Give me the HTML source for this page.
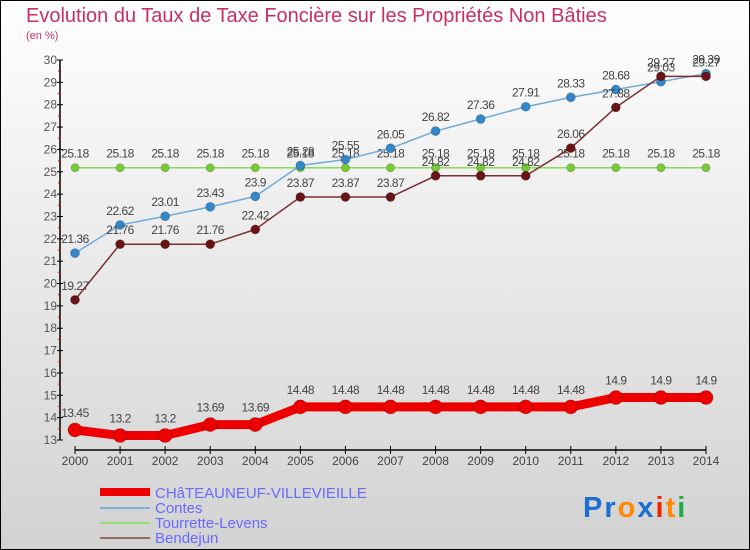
<!DOCTYPE html>
<html><head><meta charset="utf-8"><style>
html,body{margin:0;padding:0}
body{width:750px;height:550px;overflow:hidden}
svg{display:block;font-family:"Liberation Sans",sans-serif}
</style></head><body>
<svg id="chart" width="750" height="550" viewBox="0 0 750 550">
<defs>
<linearGradient id="bg" x1="0" y1="0" x2="0" y2="1"><stop offset="0" stop-color="#ffffff"/><stop offset="1" stop-color="#d2d2d2"/></linearGradient>
</defs>
<rect x="0.5" y="0.5" width="749" height="549" fill="url(#bg)" stroke="#000"/>
<text x="26" y="22" font-size="20" fill="#c8305f">Evolution du Taux de Taxe Foncière sur les Propriétés Non Bâties</text>
<text x="26" y="39" font-size="11" fill="#c8305f">(en %)</text>
<g id="axes"></g>
<g id="series"></g>
<g id="legend">
<line x1="100" y1="492" x2="150" y2="492" stroke="#ee0000" stroke-width="8"/>
<text x="155" y="498" font-size="15" fill="#6a6aff">CHâTEAUNEUF-VILLEVIEILLE</text>
<line x1="100" y1="508" x2="150" y2="508" stroke="#7ab0d0" stroke-width="2"/>
<text x="155" y="513" font-size="15" fill="#6a6aff">Contes</text>
<line x1="100" y1="523" x2="150" y2="523" stroke="#99dd77" stroke-width="2"/>
<text x="155" y="528" font-size="15" fill="#6a6aff">Tourrette-Levens</text>
<line x1="100" y1="538" x2="150" y2="538" stroke="#996666" stroke-width="2"/>
<text x="155" y="543" font-size="15" fill="#6a6aff">Bendejun</text>
</g>
<g font-size="29" font-weight="bold" letter-spacing="2">
<text x="583" y="517"><tspan fill="#1a6fd0">Pr</tspan><tspan fill="#ff8800">o</tspan><tspan fill="#1a6fd0">x</tspan><tspan fill="#ee2200">i</tspan><tspan fill="#ff8800">t</tspan><tspan fill="#22aa44">i</tspan></text>
</g>
</svg>
<script>
const years = [2000,2001,2002,2003,2004,2005,2006,2007,2008,2009,2010,2011,2012,2013,2014];
const chateauneuf = [13.45,13.2,13.2,13.69,13.69,14.48,14.48,14.48,14.48,14.48,14.48,14.48,14.9,14.9,14.9];
const contes = [21.36,22.62,23.01,23.43,23.9,25.28,25.55,26.05,26.82,27.36,27.91,28.33,28.68,29.03,29.39];
const tourrette = [25.18,25.18,25.18,25.18,25.18,25.18,25.18,25.18,25.18,25.18,25.18,25.18,25.18,25.18,25.18];
const bendejun = [19.27,21.76,21.76,21.76,22.42,23.87,23.87,23.87,24.82,24.82,24.82,26.06,27.88,29.27,29.27];
const yTicks = [13,14,15,16,17,18,19,20,21,22,23,24,25,26,27,28,29,30];

const NS = "http://www.w3.org/2000/svg";
const xS = i => 75 + i * (706 - 75) / (years.length - 1);
const yS = v => 440 - (v - 13) * (380 / 17);
function mk(tag, attrs, parent) {
  const e = document.createElementNS(NS, tag);
  for (const k in attrs) e.setAttribute(k, attrs[k]);
  parent.appendChild(e);
  return e;
}
const axes = document.getElementById('axes');
const series = document.getElementById('series');

const ya = mk('line', {x1:60, y1:yS(30), x2:60, y2:yS(13), stroke:'#000', 'stroke-width':1.5}, axes);


yTicks.forEach(t => {
  mk('line', {x1:57, y1:yS(t), x2:63, y2:yS(t), stroke:'#000'}, axes);
  if (t < 30) mk('line', {x1:58, y1:yS(t + 0.5), x2:61, y2:yS(t + 0.5), stroke:'#ee0000'}, axes);
  const tl = mk('text', {x:57, y:yS(t) + 4, 'font-size':12, fill:'#555', 'text-anchor':'end'}, axes);
  tl.textContent = t;
  
  
});
const xa = mk('line', {x1:xS(0), y1:450, x2:xS(years.length - 1), y2:450, stroke:'#000', 'stroke-width':1.5}, axes);


years.forEach((y, i) => {
  mk('line', {x1:xS(i), y1:446, x2:xS(i), y2:454, stroke:'#000'}, axes);
  const xl = mk('text', {x:xS(i), y:465, 'font-size':12, fill:'#444', 'text-anchor':'middle'}, axes);
  xl.textContent = y;
  
  
});

function draw(vals, name, color, lw, r, mfill) {
  const g = mk('g', {}, series);
  
  
  const pl = mk('polyline', {points: vals.map((v, i) => xS(i) + ',' + yS(v)).join(' '), fill:'none', stroke:color, 'stroke-width':lw, 'stroke-linejoin':'round'}, g);
  
  
  vals.forEach((v, i) => {
    const c = mk('circle', {cx:xS(i), cy:yS(v), r:r, fill:mfill, stroke:'rgba(0,0,0,0.25)', 'stroke-width':0.8}, g);
    
    
    const t = mk('text', {x:xS(i), y:yS(v) - (r > 5 ? 13 : 10), 'font-size':12, fill:'#444', 'text-anchor':'middle', 'letter-spacing':'-0.5'}, g);
    t.textContent = v;
    
    
  });
}
draw(tourrette, 'tourrette', '#88dd55', 1.5, 4, '#77cc33');
draw(contes, 'contes', '#70aad8', 1.5, 4.5, '#3388cc');
draw(bendejun, 'bendejun', '#7a3030', 1.5, 4.5, '#6a1515');
draw(chateauneuf, 'chateauneuf', '#ee0000', 9, 7, '#ee0000');
</script>
</body></html>
